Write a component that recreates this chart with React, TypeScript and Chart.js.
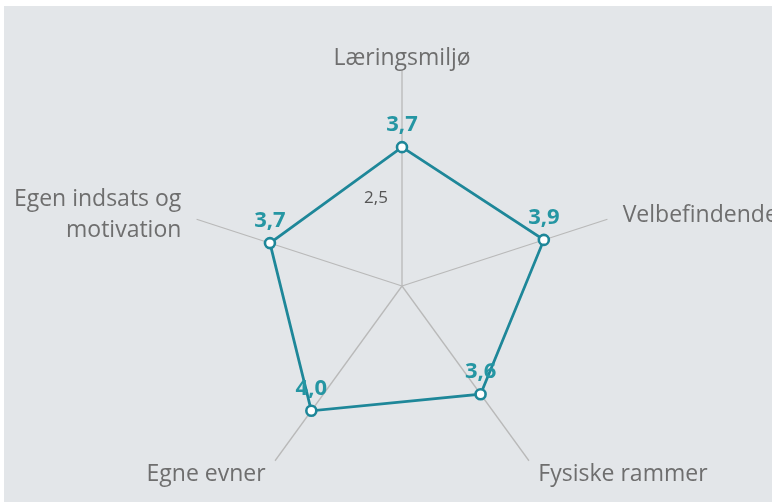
import React, { useEffect, useRef } from 'react';
import { Chart, registerables } from 'chart.js';

Chart.register(...registerables);

// ---- Data ----
const categories: (string | string[])[] = [
  'Læringsmiljø',
  'Velbefindende',
  'Fysiske rammer',
  'Egne evner',
  ['Egen indsats og', 'motivation'],
];
const values: number[] = [3.7, 3.9, 3.6, 4.0, 3.7];
const valueLabels: string[] = ['3,7', '3,9', '3,6', '4,0', '3,7'];
const tickValues: number[] = [2.5];
const tickLabels: string[] = ['2,5'];
const scaleMin = 1;
const scaleMax = 5.2;

// ---- Styles ----
const TEAL_LINE = '#1e8799';
const TEAL_TEXT = '#2596a3';
const LABEL_GRAY = '#6e6e6e';
const FONT = '"Open Sans", "DejaVu Sans", sans-serif';

const overlayPlugin = {
  id: 'overlayText',
  afterDatasetsDraw(chart: any) {
    const ctx = chart.ctx as CanvasRenderingContext2D;
    const scale = chart.scales.r;
    const R = scale.drawingArea;
    ctx.save();

    // Category labels
    ctx.font = `400 23px ${FONT}`;
    ctx.fillStyle = LABEL_GRAY;
    const lh = 31;
    categories.forEach((lab, i) => {
      const lines = Array.isArray(lab) ? lab : [lab];
      const ang = scale.getIndexAngle(i);
      const s = Math.sin(ang);
      if (Math.abs(s) < 0.05) {
        const p = scale.getPointPosition(i, R + 5);
        ctx.textAlign = 'center';
        ctx.textBaseline = 'alphabetic';
        lines.forEach((ln, j) => ctx.fillText(ln, p.x, p.y - (lines.length - 1 - j) * lh));
      } else {
        const p = scale.getPointPosition(i, R + 16);
        ctx.textAlign = s > 0 ? 'left' : 'right';
        ctx.textBaseline = 'middle';
        const y0 = p.y + 1 - ((lines.length - 1) * lh) / 2;
        lines.forEach((ln, j) => ctx.fillText(ln, p.x, y0 + j * lh));
      }
    });

    // Tick labels (left of vertical axis)
    ctx.font = `400 17px ${FONT}`;
    ctx.fillStyle = '#555555';
    ctx.textAlign = 'center';
    ctx.textBaseline = 'middle';
    tickValues.forEach((v, i) => {
      const d = scale.getDistanceFromCenterForValue(v);
      const p = scale.getPointPosition(0, d + 11);
      ctx.fillText(tickLabels[i], p.x - 26, p.y);
    });

    // Data labels
    const meta = chart.getDatasetMeta(0);
    ctx.font = `700 22px ${FONT}`;
    ctx.fillStyle = TEAL_TEXT;
    ctx.textAlign = 'center';
    ctx.textBaseline = 'middle';
    meta.data.forEach((pt: any, i: number) => {
      ctx.fillText(valueLabels[i], pt.x, pt.y - 22);
    });

    ctx.restore();
  },
};

export default function App() {
  const canvasRef = useRef<HTMLCanvasElement | null>(null);

  useEffect(() => {
    if (!canvasRef.current) return;
    const chart = new Chart(canvasRef.current, {
      type: 'radar',
      data: {
        labels: categories as any,
        datasets: [
          {
            data: values,
            borderColor: TEAL_LINE,
            borderWidth: 2.8,
            backgroundColor: 'rgba(0,0,0,0)',
            fill: false,
            tension: 0,
            pointRadius: 5,
            pointBorderWidth: 2.6,
            pointBackgroundColor: '#ffffff',
            pointBorderColor: TEAL_LINE,
          },
        ],
      },
      options: {
        responsive: false,
        animation: false,
        events: [],
        layout: { padding: { left: 102, right: 70, top: 70, bottom: 0 } },
        plugins: {
          legend: { display: false },
          tooltip: { enabled: false },
        },
        scales: {
          r: {
            min: scaleMin,
            max: scaleMax,
            grid: { display: false },
            angleLines: { display: true, color: '#b9b9b9', lineWidth: 1.3 },
            ticks: { display: false },
            pointLabels: { display: false },
          },
        },
      },
      plugins: [overlayPlugin],
    });
    return () => chart.destroy();
  }, []);

  return (
    <div
      style={{
        position: 'absolute',
        left: 0,
        top: 0,
        width: 772,
        height: 502,
        overflow: 'hidden',
        background: '#ffffff',
      }}
    >
      <div
        style={{
          position: 'absolute',
          left: 4,
          top: 6,
          right: 0,
          bottom: 0,
          background: '#e3e6e9',
        }}
      />
      <canvas
        ref={canvasRef}
        width={772}
        height={502}
        style={{ position: 'absolute', left: 0, top: 0, width: 772, height: 502 }}
      />
    </div>
  );
}
